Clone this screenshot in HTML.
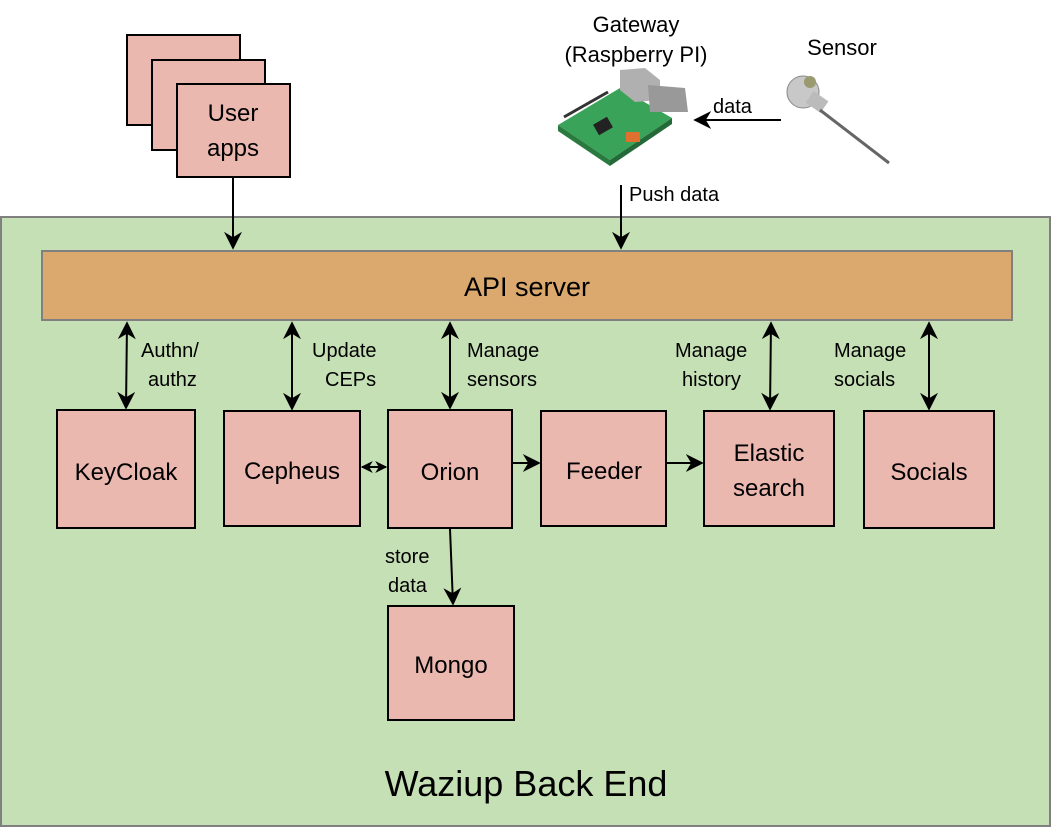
<!DOCTYPE html>
<html><head><style>body{margin:0;background:#fff}svg{display:block}</style></head><body>
<svg width="1052" height="834" viewBox="0 0 1052 834" xmlns="http://www.w3.org/2000/svg" font-family="Liberation Sans, sans-serif">
<defs>
<marker id="a" viewBox="0 0 10 10" refX="9" refY="5" markerWidth="9" markerHeight="9" orient="auto-start-reverse"><path d="M0,0 L10,5 L0,10 L3,5 z" fill="#000"/></marker>
<marker id="s" viewBox="0 0 10 10" refX="9" refY="5" markerWidth="6" markerHeight="6" orient="auto-start-reverse"><path d="M0,0 L10,5 L0,10 L3,5 z" fill="#000"/></marker>
</defs>
<rect x="1" y="217" width="1049" height="609" fill="#c5e0b4" stroke="#808080" stroke-width="2"/>
<rect x="42" y="251" width="970" height="69" fill="#dba96e" stroke="#808080" stroke-width="2"/>
<text x="527" y="296" font-size="27" text-anchor="middle">API server</text>
<g fill="#ebb8b0" stroke="#000" stroke-width="2">
<rect x="127" y="35" width="113" height="90"/>
<rect x="152" y="60" width="113" height="90"/>
<rect x="177" y="84" width="113" height="93"/>
<rect x="57" y="410" width="138" height="118"/>
<rect x="224" y="411" width="136" height="115"/>
<rect x="388" y="410" width="124" height="118"/>
<rect x="541" y="411" width="125" height="115"/>
<rect x="704" y="411" width="130" height="115"/>
<rect x="864" y="411" width="130" height="117"/>
<rect x="388" y="606" width="126" height="114"/>
</g>
<g font-size="24" text-anchor="middle">
<text x="233" y="121">User</text><text x="233" y="156">apps</text>
<text x="126" y="480">KeyCloak</text>
<text x="292" y="479">Cepheus</text>
<text x="450" y="480">Orion</text>
<text x="604" y="479">Feeder</text>
<text x="769" y="461">Elastic</text><text x="769" y="496">search</text>
<text x="929" y="480">Socials</text>
<text x="451" y="673">Mongo</text>
</g>
<text x="526" y="796" font-size="36" text-anchor="middle">Waziup Back End</text>
<g stroke="#000" stroke-width="2" fill="none">
<line x1="233" y1="178" x2="233" y2="248" marker-end="url(#a)"/>
<line x1="621" y1="185" x2="621" y2="248" marker-end="url(#a)"/>
<line x1="781" y1="120" x2="695" y2="120" marker-end="url(#a)"/>
<line x1="127" y1="323" x2="126" y2="408" marker-start="url(#a)" marker-end="url(#a)"/>
<line x1="292" y1="323" x2="292" y2="409" marker-start="url(#a)" marker-end="url(#a)"/>
<line x1="450" y1="323" x2="450" y2="408" marker-start="url(#a)" marker-end="url(#a)"/>
<line x1="771" y1="323" x2="770" y2="409" marker-start="url(#a)" marker-end="url(#a)"/>
<line x1="929" y1="323" x2="929" y2="409" marker-start="url(#a)" marker-end="url(#a)"/>
<line x1="362" y1="467" x2="386" y2="467" marker-start="url(#s)" marker-end="url(#s)"/>
<line x1="513" y1="463" x2="539" y2="463" marker-end="url(#a)"/>
<line x1="667" y1="463" x2="702" y2="463" marker-end="url(#a)"/>
<line x1="450" y1="529" x2="453" y2="604" marker-end="url(#a)"/>
</g>
<g font-size="20">
<text x="141" y="357">Authn/</text><text x="148" y="386">authz</text>
<text x="312" y="357">Update</text><text x="325" y="386">CEPs</text>
<text x="467" y="357">Manage</text><text x="467" y="386">sensors</text>
<text x="675" y="357">Manage</text><text x="682" y="386">history</text>
<text x="834" y="357">Manage</text><text x="834" y="386">socials</text>
<text x="385" y="563">store</text><text x="388" y="592">data</text>
<text x="629" y="201">Push data</text>
<text x="713" y="113">data</text>
</g>
<g font-size="22" text-anchor="middle">
<text x="636" y="32">Gateway</text><text x="636" y="62">(Raspberry PI)</text>
<text x="842" y="55">Sensor</text>
</g>
<g>
<polygon points="558,125 620,88 672,118 610,160" fill="#3aa35a"/>
<polygon points="558,125 610,160 610,166 558,131" fill="#2a7a40"/>
<polygon points="610,160 672,118 672,124 610,166" fill="#246a38"/>
<polygon points="620,70 645,68 660,80 660,100 635,102 620,90" fill="#b0b0b0"/>
<polygon points="648,85 685,88 688,112 650,112" fill="#999"/>
<rect x="595" y="120" width="16" height="12" fill="#222" transform="rotate(-30 603 126)"/>
<rect x="626" y="132" width="14" height="10" fill="#e07030"/>
<line x1="564" y1="117" x2="608" y2="92" stroke="#333" stroke-width="3"/>
</g>
<g>
<circle cx="803" cy="92" r="16" fill="#c8c8c8" stroke="#888"/>
<circle cx="810" cy="82" r="6" fill="#9a9a70"/>
<rect x="808" y="95" width="18" height="14" fill="#bbb" transform="rotate(35 817 102)"/>
<line x1="820" y1="110" x2="889" y2="163" stroke="#666" stroke-width="3"/>
</g>
</svg>
</body></html>
